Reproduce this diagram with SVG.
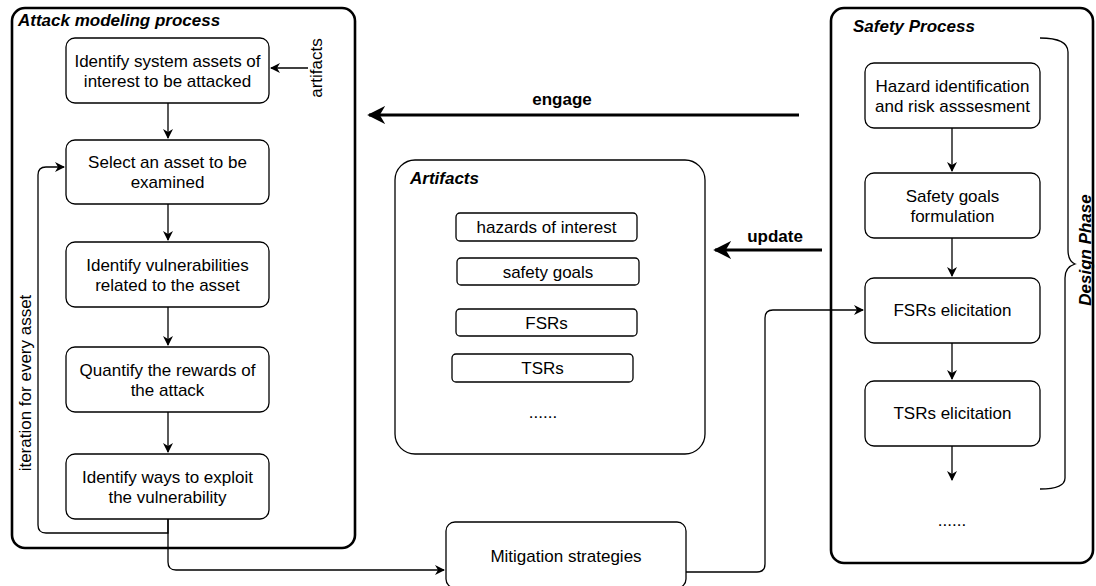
<svg xmlns="http://www.w3.org/2000/svg" width="1096" height="586" viewBox="0 0 1096 586">
<style>
  text { font-family: "Liberation Sans", Arial, Helvetica, sans-serif; fill: #000; }
  .t { font-size: 17px; text-anchor: middle; }
  .title { font-size: 17px; font-weight: bold; font-style: italic; }
  .lbl { font-size: 17px; font-weight: bold; text-anchor: middle; }
  .outer { fill: #fff; stroke: #000; stroke-width: 2.6; }
  .box { fill: #fff; stroke: #000; stroke-width: 1.3; }
  .conn { fill: none; stroke: #000; stroke-width: 1.3; }
  .thick { fill: none; stroke: #000; stroke-width: 3; }
</style>
<defs>
  <marker id="ah" viewBox="0 0 10 10" refX="9" refY="5" markerWidth="10" markerHeight="10" markerUnits="userSpaceOnUse" orient="auto">
    <path d="M0,0 L10,5 L0,10 L3,5 Z" fill="#000"/>
  </marker>
  <marker id="ahb" viewBox="0 0 10 10" refX="9" refY="5" markerWidth="18" markerHeight="18" markerUnits="userSpaceOnUse" orient="auto">
    <path d="M0,0 L10,5 L0,10 L3,5 Z" fill="#000"/>
  </marker>
</defs>

<g id="attack-process">
  <rect class="outer" x="12" y="8" width="343" height="540" rx="13"/>
  <text class="title" x="18" y="26">Attack modeling process</text>
</g>
<g id="safety-process">
  <rect class="outer" x="831" y="8" width="262" height="555" rx="13"/>
  <text class="title" x="853" y="32">Safety Process</text>
</g>
<g id="artifacts">
  <rect class="box" x="395" y="160" width="310" height="294" rx="20"/>
  <text class="title" x="410" y="184">Artifacts</text>
</g>

<g id="a1"><rect class="box" x="66" y="38" width="203" height="65" rx="9"/>
  <text class="t" x="167.5" y="67">Identify system assets of</text>
  <text class="t" x="167.5" y="87">interest to be attacked</text></g>
<g id="a2"><rect class="box" x="66" y="140" width="203" height="64" rx="9"/>
  <text class="t" x="167.5" y="168">Select an asset to be</text>
  <text class="t" x="167.5" y="188">examined</text></g>
<g id="a3"><rect class="box" x="66" y="242" width="203" height="65" rx="9"/>
  <text class="t" x="167.5" y="271">Identify vulnerabilities</text>
  <text class="t" x="167.5" y="291">related to the  asset</text></g>
<g id="a4"><rect class="box" x="66" y="347" width="203" height="65" rx="9"/>
  <text class="t" x="167.5" y="376">Quantify the rewards of</text>
  <text class="t" x="167.5" y="396">the attack</text></g>
<g id="a5"><rect class="box" x="66" y="454" width="203" height="65" rx="9"/>
  <text class="t" x="167.5" y="483">Identify ways to exploit</text>
  <text class="t" x="167.5" y="503">the vulnerability</text></g>

<g id="art1"><rect class="box" x="456" y="213" width="181" height="28" rx="4"/>
  <text class="t" x="546.5" y="233">hazards of interest</text></g>
<g id="art2"><rect class="box" x="457" y="258" width="182" height="27" rx="4"/>
  <text class="t" x="548" y="278">safety goals</text></g>
<g id="art3"><rect class="box" x="456" y="309" width="181" height="27" rx="4"/>
  <text class="t" x="546.5" y="329">FSRs</text></g>
<g id="art4"><rect class="box" x="452" y="354" width="181" height="28" rx="4"/>
  <text class="t" x="542.5" y="374">TSRs</text></g>
<g id="art-more"><text class="t" x="543" y="418">......</text></g>

<g id="s1"><rect class="box" x="865" y="63" width="175" height="65" rx="9"/>
  <text class="t" x="952.5" y="92">Hazard identification</text>
  <text class="t" x="952.5" y="112">and risk asssesment</text></g>
<g id="s2"><rect class="box" x="865" y="173" width="175" height="65" rx="9"/>
  <text class="t" x="952.5" y="202">Safety goals</text>
  <text class="t" x="952.5" y="222">formulation</text></g>
<g id="s3"><rect class="box" x="865" y="278" width="175" height="65" rx="9"/>
  <text class="t" x="952.5" y="316">FSRs elicitation</text></g>
<g id="s4"><rect class="box" x="865" y="381" width="175" height="65" rx="9"/>
  <text class="t" x="952.5" y="419">TSRs elicitation</text></g>
<g id="s-more"><text class="t" x="952" y="526">......</text></g>

<g id="mitigation"><rect class="box" x="446" y="522" width="240" height="66" rx="9"/>
  <text class="t" x="566" y="562">Mitigation strategies</text></g>

<g id="design-phase">
  <path class="conn" d="M1040 38 Q1068 38 1068 52 V250 Q1068 261 1075 264 Q1065 267 1065 278 V478 Q1065 489 1040 489"/>
  <text class="title" text-anchor="middle" transform="translate(1091 250) rotate(-90)">Design Phase</text>
</g>

<g id="connectors">
  <path class="conn" d="M168 103 V138" marker-end="url(#ah)"/>
  <path class="conn" d="M168 204 V240" marker-end="url(#ah)"/>
  <path class="conn" d="M168 307 V345" marker-end="url(#ah)"/>
  <path class="conn" d="M168 412 V452" marker-end="url(#ah)"/>
  <path class="conn" d="M308 68 H271" marker-end="url(#ah)"/>
  <path class="conn" d="M168 519 V533 H46 Q38 533 38 525 V175 Q38 167 46 167 H64" marker-end="url(#ah)"/>
  <path class="conn" d="M168 519 V562 Q168 570 176 570 H444" marker-end="url(#ah)"/>
  <path class="conn" d="M686 572 H757 Q765 572 765 564 V318 Q765 310 773 310 H863" marker-end="url(#ah)"/>
  <path class="conn" d="M952 128 V171" marker-end="url(#ah)"/>
  <path class="conn" d="M952 238 V276" marker-end="url(#ah)"/>
  <path class="conn" d="M952 343 V379" marker-end="url(#ah)"/>
  <path class="conn" d="M952 446 V480" marker-end="url(#ah)"/>
  <path class="thick" d="M799 115 H369" marker-end="url(#ahb)"/>
  <path class="thick" d="M822 250 H715" marker-end="url(#ahb)"/>
  <text class="lbl" x="562" y="105">engage</text>
  <text class="lbl" x="775" y="242">update</text>
  <text class="t" transform="translate(322 68) rotate(-90)">artifacts</text>
  <text class="t" transform="translate(31 383) rotate(-90)">iteration for every asset</text>
</g>
</svg>
